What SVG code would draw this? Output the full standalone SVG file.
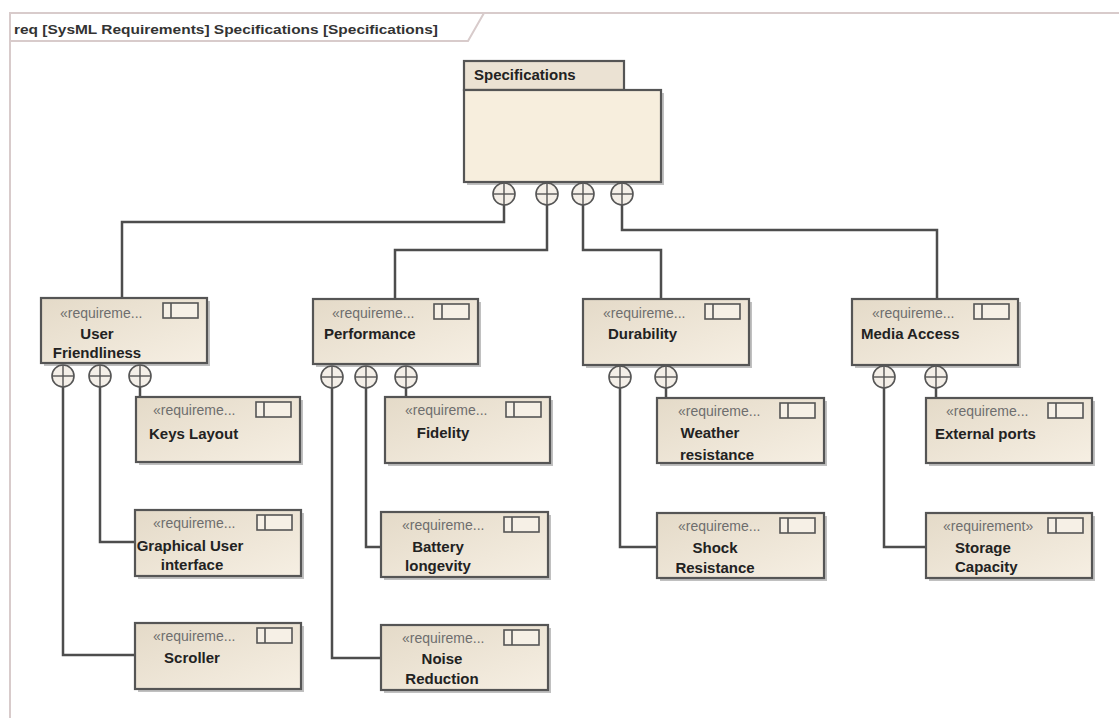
<svg xmlns="http://www.w3.org/2000/svg" width="1119" height="718" viewBox="0 0 1119 718">
<defs>
<linearGradient id="bg" x1="0" y1="0" x2="1" y2="1">
<stop offset="0" stop-color="#e4dac8"/>
<stop offset="1" stop-color="#f6efe3"/>
</linearGradient>
<g id="icon"><rect x="0" y="0" width="35" height="15" fill="#f6f0e6" stroke="#555" stroke-width="1.6"/><line x1="8" y1="0" x2="8" y2="15" stroke="#555" stroke-width="1.6"/></g>
<g id="port"><circle cx="0" cy="0" r="11" fill="#f4efe8" stroke="#555" stroke-width="1.6"/><line x1="-11" y1="0" x2="11" y2="0" stroke="#555" stroke-width="1.4"/><line x1="0" y1="-11" x2="0" y2="11" stroke="#555" stroke-width="1.4"/></g>
</defs>
<style>
.frame{fill:none;stroke:#d8cbcb;stroke-width:2}
.box{fill:url(#bg);stroke:#555;stroke-width:2.2}
.shadow{fill:#8c8c8c;opacity:0.55}
.st{font-family:"Liberation Sans",Arial,sans-serif;font-size:14px;fill:#6e6e6e}
.nm{font-family:"Liberation Sans",Arial,sans-serif;font-size:15px;font-weight:bold;fill:#222}
.mid{text-anchor:middle}
.conn{fill:none;stroke:#4d4d4d;stroke-width:2.5}
.hdr{font-family:"Liberation Sans",Arial,sans-serif;font-size:13.5px;font-weight:bold;fill:#333}
</style>
<rect x="0" y="0" width="1119" height="718" fill="#ffffff"/>
<g id="frame">
<path class="frame" d="M10,718 L10,13 L1119,13"/>
<path class="frame" d="M10,41 L468,41 L484,13"/>
<text class="hdr" x="14" y="34" textLength="424" lengthAdjust="spacingAndGlyphs">req [SysML Requirements] Specifications [Specifications]</text>
</g>
<g id="connectors">
<polyline class="conn" points="504,205 504,222 122,222 122,298"/>
<polyline class="conn" points="547,205 547,250 395,250 395,299"/>
<polyline class="conn" points="583,205 583,250 661,250 661,299"/>
<polyline class="conn" points="622,205 622,230 937,230 937,299"/>
<polyline class="conn" points="140,387 140,397"/>
<polyline class="conn" points="100,387 100,542 135,542"/>
<polyline class="conn" points="63,387 63,655 135,655"/>
<polyline class="conn" points="406,388 406,397"/>
<polyline class="conn" points="366,388 366,547 381,547"/>
<polyline class="conn" points="332,388 332,658 381,658"/>
<polyline class="conn" points="666,388 666,398"/>
<polyline class="conn" points="620,388 620,547 657,547"/>
<polyline class="conn" points="936,388 936,398"/>
<polyline class="conn" points="884,388 884,547 926,547"/>
</g>
<g id="specifications">
<rect x="467" y="93" width="197" height="92" class="shadow"/>
<rect x="464" y="61" width="160" height="29" fill="#ebe2d3" stroke="#555" stroke-width="2.2"/>
<rect x="464" y="90" width="197" height="92" fill="#f7eedd" stroke="#555" stroke-width="2.2"/>
<text class="nm" x="474" y="80">Specifications</text>
<use href="#port" x="504" y="194"/>
<use href="#port" x="547" y="194"/>
<use href="#port" x="583" y="194"/>
<use href="#port" x="622" y="194"/>
</g>
<g id="user-friendliness">
<rect x="44" y="301" width="166" height="65" class="shadow"/>
<rect x="41" y="298" width="166" height="65" class="box"/>
<use href="#icon" x="163" y="303"/>
<text class="st" x="60" y="318">«requireme...</text>
<text class="nm mid" x="97" y="339">User</text>
<text class="nm mid" x="97" y="358">Friendliness</text>
<use href="#port" x="63" y="376"/>
<use href="#port" x="100" y="376"/>
<use href="#port" x="140" y="376"/>
</g>
<g id="keys-layout">
<rect x="139" y="400" width="164" height="65" class="shadow"/>
<rect x="136" y="397" width="164" height="65" class="box"/>
<use href="#icon" x="256" y="402"/>
<text class="st" x="153" y="415">«requireme...</text>
<text class="nm" x="149" y="439">Keys Layout</text>
</g>
<g id="graphical-user-interface">
<rect x="138" y="513" width="166" height="66" class="shadow"/>
<rect x="135" y="510" width="166" height="66" class="box"/>
<use href="#icon" x="257" y="515"/>
<text class="st" x="153" y="528">«requireme...</text>
<text class="nm mid" x="190" y="551">Graphical User</text>
<text class="nm mid" x="192" y="570">interface</text>
</g>
<g id="scroller">
<rect x="138" y="626" width="166" height="66" class="shadow"/>
<rect x="135" y="623" width="166" height="66" class="box"/>
<use href="#icon" x="257" y="628"/>
<text class="st" x="153" y="641">«requireme...</text>
<text class="nm mid" x="192" y="663">Scroller</text>
</g>
<g id="performance">
<rect x="316" y="302" width="165" height="65" class="shadow"/>
<rect x="313" y="299" width="165" height="65" class="box"/>
<use href="#icon" x="434" y="304"/>
<text class="st" x="332" y="318">«requireme...</text>
<text class="nm" x="324" y="339">Performance</text>
<use href="#port" x="332" y="377"/>
<use href="#port" x="366" y="377"/>
<use href="#port" x="406" y="377"/>
</g>
<g id="fidelity">
<rect x="388" y="400" width="165" height="66" class="shadow"/>
<rect x="385" y="397" width="165" height="66" class="box"/>
<use href="#icon" x="506" y="402"/>
<text class="st" x="405" y="415">«requireme...</text>
<text class="nm mid" x="443" y="438">Fidelity</text>
</g>
<g id="battery-longevity">
<rect x="384" y="515" width="167" height="65" class="shadow"/>
<rect x="381" y="512" width="167" height="65" class="box"/>
<use href="#icon" x="504" y="517"/>
<text class="st" x="402" y="530">«requireme...</text>
<text class="nm mid" x="438" y="552">Battery</text>
<text class="nm mid" x="438" y="571">longevity</text>
</g>
<g id="noise-reduction">
<rect x="384" y="628" width="167" height="65" class="shadow"/>
<rect x="381" y="625" width="167" height="65" class="box"/>
<use href="#icon" x="504" y="630"/>
<text class="st" x="402" y="643">«requireme...</text>
<text class="nm mid" x="442" y="664">Noise</text>
<text class="nm mid" x="442" y="684">Reduction</text>
</g>
<g id="durability">
<rect x="586" y="302" width="166" height="66" class="shadow"/>
<rect x="583" y="299" width="166" height="66" class="box"/>
<use href="#icon" x="705" y="304"/>
<text class="st" x="603" y="318">«requireme...</text>
<text class="nm" x="608" y="339">Durability</text>
<use href="#port" x="620" y="377"/>
<use href="#port" x="666" y="377"/>
</g>
<g id="weather-resistance">
<rect x="660" y="401" width="167" height="65" class="shadow"/>
<rect x="657" y="398" width="167" height="65" class="box"/>
<use href="#icon" x="780" y="403"/>
<text class="st" x="678" y="416">«requireme...</text>
<text class="nm mid" x="710" y="438">Weather</text>
<text class="nm mid" x="717" y="460">resistance</text>
</g>
<g id="shock-resistance">
<rect x="660" y="516" width="167" height="65" class="shadow"/>
<rect x="657" y="513" width="167" height="65" class="box"/>
<use href="#icon" x="780" y="518"/>
<text class="st" x="678" y="531">«requireme...</text>
<text class="nm mid" x="715" y="553">Shock</text>
<text class="nm mid" x="715" y="573">Resistance</text>
</g>
<g id="media-access">
<rect x="855" y="302" width="166" height="66" class="shadow"/>
<rect x="852" y="299" width="166" height="66" class="box"/>
<use href="#icon" x="974" y="304"/>
<text class="st" x="872" y="318">«requireme...</text>
<text class="nm" x="861" y="339">Media Access</text>
<use href="#port" x="884" y="377"/>
<use href="#port" x="936" y="377"/>
</g>
<g id="external-ports">
<rect x="929" y="401" width="166" height="65" class="shadow"/>
<rect x="926" y="398" width="166" height="65" class="box"/>
<use href="#icon" x="1048" y="403"/>
<text class="st" x="946" y="416">«requireme...</text>
<text class="nm" x="935" y="439">External ports</text>
</g>
<g id="storage-capacity">
<rect x="929" y="516" width="166" height="65" class="shadow"/>
<rect x="926" y="513" width="166" height="65" class="box"/>
<use href="#icon" x="1048" y="518"/>
<text class="st" x="943" y="531">«requirement»</text>
<text class="nm" x="955" y="553">Storage</text>
<text class="nm" x="955" y="572">Capacity</text>
</g>
</svg>
